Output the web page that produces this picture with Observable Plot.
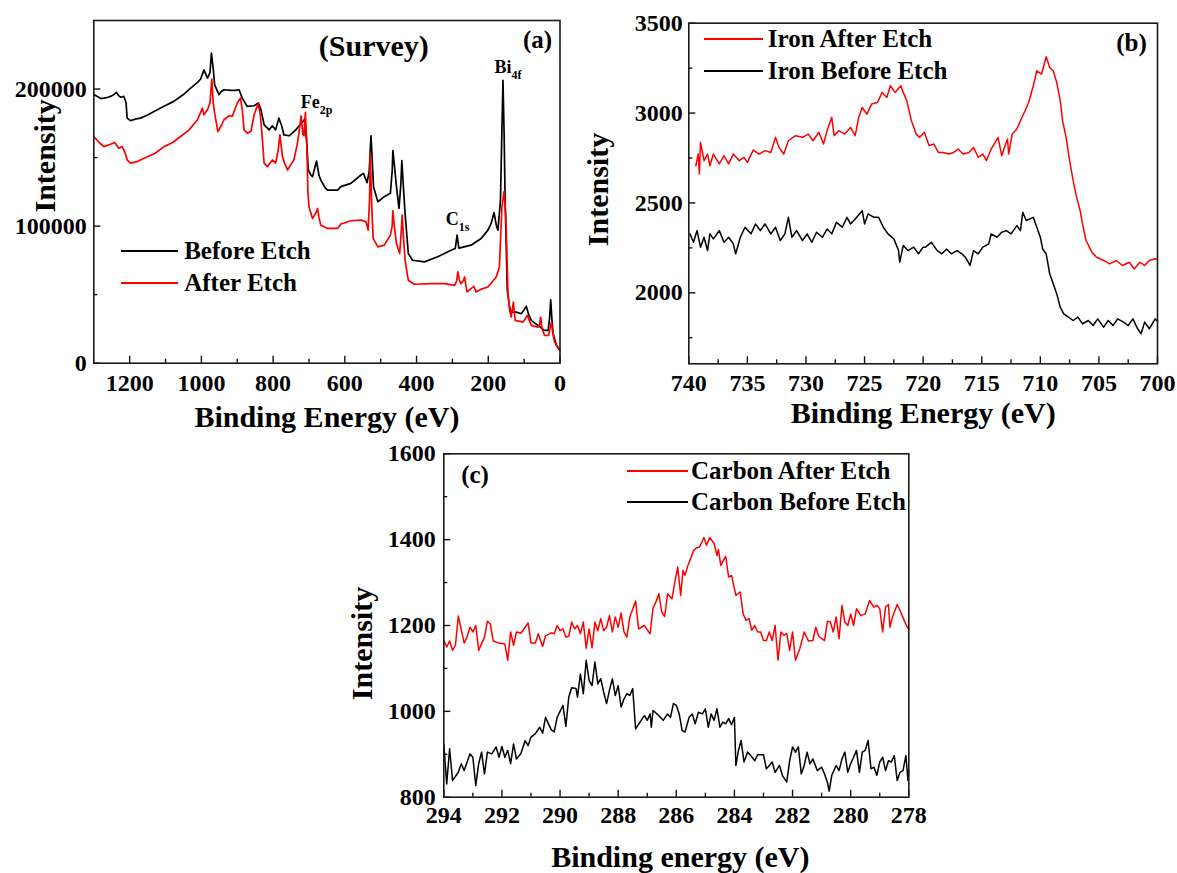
<!DOCTYPE html>
<html><head><meta charset="utf-8">
<script src="https://cdn.jsdelivr.net/npm/d3@7"></script>
<script src="https://cdn.jsdelivr.net/npm/@observablehq/plot@0.6"></script>
<style>
body{margin:0;background:#fff;}
#root{position:relative;width:1177px;height:873px;overflow:hidden;background:#fff;font-family:"Liberation Serif","Times New Roman",serif;font-weight:bold;color:#000;}
.panel{position:absolute;}
.legend{position:absolute;font-size:25px;font-weight:bold;font-family:"Liberation Serif","Times New Roman",serif;}
.legend .row{display:flex;align-items:center;white-space:nowrap;}
.legend .swatch{display:inline-block;border-top:2px solid;}
</style></head><body><div id="root"></div><script>
// ---------- Panel (a): survey ----------
const surveyBefore = [[1300,196000],[1290,194500],[1280,193000],[1272,193400],[1260,194000],[1250,195000],[1244,196000],[1237,197600],[1230,195000],[1225,194000],[1216,194600],[1210,190000],[1207,178800],[1198,177000],[1185,178000],[1170,178800],[1150,181000],[1123,184900],[1100,188000],[1077,191000],[1050,196000],[1030,200700],[1010,205000],[1002,207300],[993,214000],[983,208000],[976,212000],[972,226300],[967,215000],[963,203000],[951,195900],[945,198000],[937,199500],[918,199000],[905,199000],[895,199500],[886,193400],[872,187300],[853,187800],[841,189800],[834,185000],[825,173900],[811,170200],[802,173200],[793,170200],[784,178800],[776,173000],[770,166600],[755,165900],[737,170200],[725,173900],[718,176000],[712,178000],[706,160000],[702,141000],[695,137300],[690,136100],[679,147500],[672,137000],[667,133600],[655,128000],[648,126300],[620,126300],[611,128800],[583,131200],[555,137300],[548,138500],[538,131700],[532,140000],[527,165900],[522,140000],[520,128800],[508,117800],[490,121500],[473,123900],[468,140000],[466,155100],[462,145000],[456,128800],[449,112900],[444,130000],[441,147800],[437,130000],[432,109300],[423,80000],[411,75100],[378,73900],[341,77600],[304,82400],[292,83700],[287,93400],[282,84000],[248,86100],[220,91000],[201,97100],[192,102000],[184,109800],[177,100000],[173,97100],[166,119000],[162,170000],[159,206300],[156,170000],[153,119000],[147,53200],[140,40000],[136,37300],[122,37300],[108,36100],[100,39000],[94,41500],[88,36000],[80,31200],[62,27600],[43,23900],[33,23900],[29,33000],[26,46300],[22,30000],[19,21500],[10,12900],[0,9300]];
const surveyAfter = [[1300,165400],[1285,161000],[1272,158000],[1255,159500],[1242,161000],[1230,156800],[1221,158000],[1212,153000],[1207,148300],[1198,145900],[1180,147000],[1160,149500],[1130,153000],[1104,158000],[1080,161000],[1058,165400],[1035,170000],[1011,177600],[997,186100],[993,181200],[983,184900],[976,190000],[971,207300],[967,190000],[963,182400],[954,169000],[945,173000],[937,177600],[923,180500],[914,180000],[900,189800],[891,193400],[886,185000],[881,170200],[872,167800],[862,169000],[853,181200],[842,189300],[836,182000],[832,170200],[825,145900],[816,143400],[802,148300],[793,145900],[786,155000],[781,166600],[774,150700],[768,146000],[760,141000],[742,148300],[733,159300],[728,167800],[722,180500],[717,167000],[714,165900],[710,183000],[706,160000],[703,125000],[700,114100],[690,105600],[680,110000],[676,112900],[672,106000],[667,100700],[648,98300],[620,98300],[611,101500],[583,103900],[555,104400],[541,103200],[535,97100],[531,120000],[529,153200],[525,115000],[521,91000],[508,84900],[490,86100],[473,93400],[468,100000],[466,111200],[462,100000],[456,87300],[447,80000],[443,95000],[440,108000],[436,90000],[432,75100],[423,60500],[406,57600],[359,58000],[322,58000],[294,56800],[288,60000],[285,66600],[280,60000],[276,58000],[270,60000],[266,62900],[262,56000],[259,52000],[250,54000],[240,56100],[234,52000],[220,54000],[201,55600],[178,62900],[169,70200],[162,114100],[156,125100],[151,106800],[145,50700],[140,38000],[136,33700],[130,44600],[125,31200],[103,30000],[91,34900],[80,27600],[62,26300],[57,28000],[54,33700],[50,25000],[43,20200],[32,20200],[24,30000],[20,22000],[15,15400],[0,9300]];
const surveyXMajor = [1200,1000,800,600,400,200,0];
const surveyXMinor = [1100,900,700,500,300,100];
const surveyYMajor = [0,100000,200000];
const surveyYMinor = [50000,150000];
const surveyPeaks = [{t:"Fe",s:"2p",e:670,i:190400},{t:"C",s:"1s",e:282,i:105300},{t:"Bi",s:"4f",e:135,i:215900}];
const legendA = [{label:"Before Etch",color:"#000000"},{label:"After Etch",color:"#ff0000"}];

// ---------- Panel (b): iron ----------
const ironAfter = [[739.4,2707],[739.2,2772],[739.1,2661],[739.0,2837],[738.7,2735],[738.4,2772],[738.2,2707],[737.9,2772],[737.4,2717],[737.0,2763],[736.6,2717],[736.2,2772],[735.7,2735],[735.3,2754],[735.0,2726],[734.5,2794],[734.0,2772],[733.5,2791],[733.0,2781],[732.6,2865],[732.3,2809],[731.9,2772],[731.5,2846],[730.9,2874],[730.3,2865],[729.8,2883],[729.4,2846],[728.9,2893],[728.5,2828],[728.2,2902],[727.8,2976],[727.6,2874],[727.2,2902],[726.7,2883],[726.2,2920],[725.8,2874],[725.5,2976],[725.2,3031],[724.8,2994],[724.4,3050],[723.9,3059],[723.5,3115],[723.1,3087],[722.8,3152],[722.4,3115],[721.9,3152],[721.7,3115],[721.4,3069],[721.0,2957],[720.6,2883],[720.3,2865],[719.9,2893],[719.5,2819],[719.1,2828],[718.7,2781],[718.3,2781],[717.8,2772],[717.4,2781],[717.0,2800],[716.6,2772],[716.1,2781],[715.7,2809],[715.3,2754],[714.9,2772],[714.6,2735],[714.2,2800],[713.6,2865],[713.3,2763],[712.8,2856],[712.7,2772],[712.4,2883],[712.0,2911],[711.7,2957],[711.3,3013],[711.0,3059],[710.6,3152],[710.3,3235],[709.9,3217],[709.7,3263],[709.5,3313],[709.2,3254],[708.9,3235],[708.6,3170],[708.3,3069],[708.1,2957],[707.8,2865],[707.5,2735],[707.2,2624],[706.9,2531],[706.6,2457],[706.4,2383],[706.1,2291],[705.6,2226],[705.2,2198],[704.6,2180],[704.1,2161],[703.5,2180],[703.0,2152],[702.4,2170],[702.0,2133],[701.5,2170],[701.1,2152],[700.7,2180],[700.2,2189],[700.0,2185]];
const ironBefore = [[739.9,2328],[739.6,2281],[739.3,2346],[739.0,2254],[738.7,2309],[738.4,2235],[738.2,2328],[737.9,2300],[737.4,2346],[737.0,2281],[736.6,2309],[736.2,2272],[736.0,2217],[735.6,2309],[735.2,2365],[734.7,2328],[734.3,2383],[733.9,2346],[733.5,2383],[733.0,2328],[732.6,2365],[732.2,2291],[731.8,2328],[731.5,2420],[731.2,2309],[730.8,2346],[730.3,2291],[729.9,2328],[729.5,2281],[729.1,2337],[728.6,2309],[728.2,2355],[727.8,2328],[727.4,2392],[726.9,2365],[726.5,2420],[726.2,2383],[725.8,2411],[725.2,2457],[725.0,2383],[724.7,2439],[724.2,2420],[723.8,2420],[723.4,2365],[723.0,2328],[722.5,2300],[722.1,2235],[722.0,2170],[721.7,2263],[721.3,2235],[720.8,2254],[720.4,2217],[720.0,2254],[719.8,2254],[719.3,2281],[718.8,2235],[718.4,2217],[718.0,2244],[717.6,2217],[717.1,2235],[716.7,2217],[716.4,2198],[716.0,2152],[715.7,2235],[715.3,2217],[714.9,2254],[714.4,2272],[714.2,2328],[713.7,2309],[713.3,2337],[712.9,2346],[712.5,2328],[712.0,2374],[711.7,2346],[711.5,2448],[711.2,2402],[710.9,2411],[710.6,2420],[710.3,2365],[710.0,2309],[709.8,2244],[709.5,2217],[709.2,2106],[708.9,2050],[708.6,1994],[708.3,1920],[708.0,1883],[707.6,1865],[707.2,1846],[706.8,1865],[706.4,1828],[705.9,1846],[705.5,1818],[705.1,1855],[704.6,1809],[704.2,1846],[703.8,1818],[703.4,1855],[702.9,1837],[702.5,1818],[702.1,1855],[701.7,1800],[701.4,1772],[701.1,1837],[700.7,1800],[700.2,1855],[700.0,1840]];
const ironXMajor = [740,735,730,725,720,715,710,705,700];
const ironXMinor = [737.5,732.5,727.5,722.5,717.5,712.5,707.5,702.5];
const ironYMajor = [2000,2500,3000,3500];
const ironYMinor = [1750,2250,2750,3250];
const legendB = [{label:"Iron After Etch",color:"#ff0000"},{label:"Iron Before Etch",color:"#000000"}];

// ---------- Panel (c): carbon ----------
const carbonAfter = [[294.0,1165],[293.9,1150],[293.8,1164],[293.7,1142],[293.6,1154],[293.5,1222],[293.3,1159],[293.2,1173],[293.1,1196],[293.0,1185],[292.9,1200],[292.8,1142],[292.6,1173],[292.5,1210],[292.4,1204],[292.3,1164],[292.1,1159],[291.9,1157],[291.8,1119],[291.7,1185],[291.6,1154],[291.5,1185],[291.35,1182],[291.2,1196],[291.1,1206],[291.0,1159],[290.85,1159],[290.75,1181],[290.6,1151],[290.5,1176],[290.3,1183],[290.2,1181],[290.1,1200],[290.0,1188],[289.9,1192],[289.8,1173],[289.7,1175],[289.6,1208],[289.5,1192],[289.4,1200],[289.3,1181],[289.2,1208],[289.1,1147],[289.0,1192],[288.9,1148],[288.8,1208],[288.7,1188],[288.6,1216],[288.5,1188],[288.4,1196],[288.3,1223],[288.2,1185],[288.1,1220],[288.0,1196],[287.9,1229],[287.8,1185],[287.7,1173],[287.6,1220],[287.4,1257],[287.3,1192],[287.1,1200],[286.95,1185],[286.9,1181],[286.8,1241],[286.7,1255],[286.6,1274],[286.5,1231],[286.4,1221],[286.3,1274],[286.15,1262],[286.05,1301],[285.95,1336],[285.85,1270],[285.77,1328],[285.7,1317],[285.6,1340],[285.4,1375],[285.3,1381],[285.2,1383],[285.05,1405],[284.96,1387],[284.85,1405],[284.7,1391],[284.6,1363],[284.55,1377],[284.47,1340],[284.3,1361],[284.2,1313],[284.1,1317],[283.95,1270],[283.8,1278],[283.7,1227],[283.6,1212],[283.5,1216],[283.4,1189],[283.3,1200],[283.2,1185],[283.1,1185],[283.0,1165],[282.9,1165],[282.8,1185],[282.7,1165],[282.6,1200],[282.5,1119],[282.4,1185],[282.3,1177],[282.2,1181],[282.1,1142],[282.0,1185],[281.9,1119],[281.75,1146],[281.6,1185],[281.45,1164],[281.3,1165],[281.2,1196],[281.1,1175],[280.9,1165],[280.8,1210],[280.7,1208],[280.6,1185],[280.5,1220],[280.4,1169],[280.3,1247],[280.2,1208],[280.1,1200],[280.0,1227],[279.9,1200],[279.8,1239],[279.65,1223],[279.5,1227],[279.35,1258],[279.2,1243],[279.1,1247],[279.0,1239],[278.9,1185],[278.8,1243],[278.7,1249],[278.65,1196],[278.56,1220],[278.4,1249],[278.3,1235],[278.16,1212],[278.05,1196],[278.0,1190]];
const carbonBefore = [[294.0,924],[293.9,831],[293.8,913],[293.7,839],[293.5,858],[293.4,878],[293.3,862],[293.1,901],[293.0,893],[292.9,827],[292.8,878],[292.7,905],[292.6,854],[292.5,905],[292.35,901],[292.2,917],[292.1,893],[292.0,918],[291.9,893],[291.8,909],[291.7,878],[291.6,924],[291.5,889],[291.35,901],[291.2,932],[291.1,920],[291.0,940],[290.85,948],[290.7,963],[290.6,949],[290.5,986],[290.3,957],[290.2,952],[290.1,986],[289.9,1014],[289.8,965],[289.7,1033],[289.6,1055],[289.45,1053],[289.4,1033],[289.3,1087],[289.2,1041],[289.1,1119],[289.0,1072],[288.9,1060],[288.8,1115],[288.7,1064],[288.6,1076],[288.5,1045],[288.4,1018],[288.3,1049],[288.2,1076],[288.1,1037],[288.0,1060],[287.9,1010],[287.8,1029],[287.7,1041],[287.6,1037],[287.5,1053],[287.4,959],[287.25,975],[287.1,990],[287.0,979],[286.9,994],[286.86,963],[286.8,1002],[286.6,990],[286.45,979],[286.3,994],[286.2,986],[286.1,1018],[286.0,1014],[285.9,994],[285.8,955],[285.7,952],[285.56,986],[285.45,994],[285.35,971],[285.24,998],[285.1,994],[285.0,1006],[284.9,963],[284.8,994],[284.7,979],[284.6,1006],[284.5,963],[284.4,975],[284.3,971],[284.2,983],[284.1,969],[284.0,986],[283.95,874],[283.86,909],[283.77,932],[283.67,882],[283.55,905],[283.44,897],[283.3,885],[283.2,899],[283.0,899],[282.9,866],[282.8,874],[282.7,882],[282.6,858],[282.45,874],[282.35,851],[282.2,835],[282.1,885],[282.0,917],[281.9,905],[281.8,917],[281.7,854],[281.6,874],[281.5,905],[281.4,878],[281.3,889],[281.15,862],[281.0,870],[280.9,854],[280.8,835],[280.74,814],[280.65,851],[280.5,874],[280.4,862],[280.3,889],[280.2,905],[280.1,858],[280.0,878],[279.9,893],[279.8,909],[279.7,858],[279.6,905],[279.5,909],[279.4,932],[279.3,866],[279.2,870],[279.1,851],[279.0,882],[278.9,893],[278.8,862],[278.7,885],[278.6,882],[278.5,897],[278.4,839],[278.3,858],[278.2,862],[278.1,897],[278.03,839],[278.0,862]];
const carbonXMajor = [294,292,290,288,286,284,282,280,278];
const carbonXMinor = [293,291,289,287,285,283,281,279];
const carbonYMajor = [800,1000,1200,1400,1600];
const carbonYMinor = [900,1100,1300,1500];
const legendC = [{label:"Carbon After Etch",color:"#ff0000"},{label:"Carbon Before Etch",color:"#000000"}];

const RED = "#ff0000", BLACK = "#000000";
const FONT = '"Liberation Serif", "Times New Roman", serif';
const root = document.getElementById("root");

function panel(o) {
  const innerW = o.width - o.marginLeft - o.marginRight;
  const innerH = o.height - o.marginTop - o.marginBottom;
  const fmt = d3.format("d");
  const marks = [
    Plot.axisX(o.xMajor, {tickSize: 0, tickPadding: o.xTickPad, lineAnchor: "middle", fontSize: 24, fontWeight: "bold", tickFormat: fmt, label: null}),
    Plot.axisY(o.yMajor, {tickSize: 0, tickPadding: o.yTickPad, fontSize: 24, fontWeight: "bold", tickFormat: fmt, label: null}),
    Plot.tickX(o.xMajor, {x: d => d, insetTop: innerH - 7, stroke: "#111", strokeWidth: 1.4}),
    Plot.tickX(o.xMinor, {x: d => d, insetTop: innerH - 4, stroke: "#111", strokeWidth: 1.4}),
    Plot.tickY(o.yMajor, {y: d => d, insetRight: innerW - 7, stroke: "#111", strokeWidth: 1.4}),
    Plot.tickY(o.yMinor, {y: d => d, insetRight: innerW - 4, stroke: "#111", strokeWidth: 1.4}),
    ...o.series.map(s => Plot.line(s.data, {x: d => d[0], y: d => d[1], stroke: s.color, strokeWidth: o.lineWidth || 1.5})),
    Plot.frame({stroke: "#1a1a1a", strokeWidth: 1.6}),
    Plot.text([o.xLabel], {frameAnchor: "bottom", textAnchor: "middle", lineAnchor: "middle", dx: o.xLabelDx || 0, dy: o.xLabelDy, fontSize: 30, fontWeight: "bold"}),
    Plot.text(["Intensity"], {frameAnchor: "left", textAnchor: "middle", lineAnchor: "middle", rotate: -90, dx: o.yLabelDx, dy: o.yLabelDy, fontSize: 30, fontWeight: "bold"}),
    Plot.text([o.tag], {frameAnchor: "top-left", textAnchor: "middle", lineAnchor: "middle", dx: o.tagDx, dy: o.tagDy, fontSize: 25, fontWeight: "bold"}),
    ...(o.extra || [])
  ];
  const svg = Plot.plot({
    width: o.width, height: o.height,
    marginLeft: o.marginLeft, marginRight: o.marginRight, marginTop: o.marginTop, marginBottom: o.marginBottom,
    x: {domain: o.xDomain},
    y: {domain: o.yDomain},
    style: {fontFamily: FONT, fontWeight: "bold", color: "#000", background: "transparent", overflow: "visible"},
    marks
  });
  svg.classList.add("panel");
  svg.style.left = o.left + "px";
  svg.style.top = o.top + "px";
  svg.style.position = "absolute";
  svg.style.maxWidth = "none";
  root.appendChild(svg);
}

function legend(items, left, top, rowH, swatchW, gap) {
  const div = document.createElement("div");
  div.className = "legend";
  div.style.left = left + "px";
  div.style.top = top + "px";
  for (const it of items) {
    const row = document.createElement("div");
    row.className = "row";
    row.style.height = rowH + "px";
    const sw = document.createElement("span");
    sw.className = "swatch";
    sw.style.width = swatchW + "px";
    sw.style.borderTopColor = it.color;
    sw.style.marginRight = gap + "px";
    const tx = document.createElement("span");
    tx.textContent = it.label;
    row.appendChild(sw); row.appendChild(tx);
    div.appendChild(row);
  }
  root.appendChild(div);
}

// Panel (a)
panel({
  left: 0, top: 0, width: 580, height: 440,
  marginLeft: 93.3, marginRight: 20.5, marginTop: 20, marginBottom: 77.3,
  xDomain: [1300, 0], yDomain: [0, 250000],
  xMajor: surveyXMajor, xMinor: surveyXMinor, yMajor: surveyYMajor, yMinor: surveyYMinor,
  xTickPad: 20, yTickPad: 7, lineWidth: 1.7,
  series: [{data: surveyBefore, color: BLACK}, {data: surveyAfter, color: RED}],
  xLabel: "Binding Energy (eV)", xLabelDy: 54,
  yLabelDx: -48, yLabelDy: -36,
  tag: "(a)", tagDx: 443.7, tagDy: 19,
  extra: [
    Plot.text(["(Survey)"], {frameAnchor: "top-left", textAnchor: "middle", lineAnchor: "middle", dx: 280, dy: 25.5, fontSize: 30, fontWeight: "bold"}),
    Plot.text(surveyPeaks, {x: "e", y: "i", text: "t", textAnchor: "end", lineAnchor: "middle", fontSize: 18, fontWeight: "bold"}),
    Plot.text(surveyPeaks, {x: "e", y: "i", text: "s", textAnchor: "start", lineAnchor: "middle", dy: 8, fontSize: 12, fontWeight: "bold"})
  ]
});
legend(legendA, 120.7, 234.7, 32, 57, 6.5);

// Panel (b)
panel({
  left: 580, top: 0, width: 597, height: 440,
  marginLeft: 108.3, marginRight: 20, marginTop: 22.7, marginBottom: 76.7,
  xDomain: [740, 700], yDomain: [1605, 3500],
  xMajor: ironXMajor, xMinor: ironXMinor, yMajor: ironYMajor, yMinor: ironYMinor,
  xTickPad: 20, yTickPad: 6,
  series: [{data: ironBefore, color: BLACK}, {data: ironAfter, color: RED}],
  xLabel: "Binding Energy (eV)", xLabelDy: 50,
  yLabelDx: -90, yLabelDy: -4,
  tag: "(b)", tagDx: 442.7, tagDy: 19.8
});
legend(legendB, 704.3, 23.6, 31.4, 59, 4.5);

// Panel (c)
panel({
  left: 340, top: 440, width: 600, height: 433,
  marginLeft: 103.3, marginRight: 31.7, marginTop: 13.3, marginBottom: 76.3,
  xDomain: [294, 278], yDomain: [800, 1600],
  xMajor: carbonXMajor, xMinor: carbonXMinor, yMajor: carbonYMajor, yMinor: carbonYMinor,
  xTickPad: 18, yTickPad: 8,
  series: [{data: carbonBefore, color: BLACK}, {data: carbonAfter, color: RED}],
  xLabel: "Binding energy (eV)", xLabelDx: 4, xLabelDy: 60,
  yLabelDx: -81, yLabelDy: 18,
  tag: "(c)", tagDx: 31.2, tagDy: 20.7
});
legend(legendC, 626.7, 455.2, 31, 61.3, 3);
</script></body></html>
